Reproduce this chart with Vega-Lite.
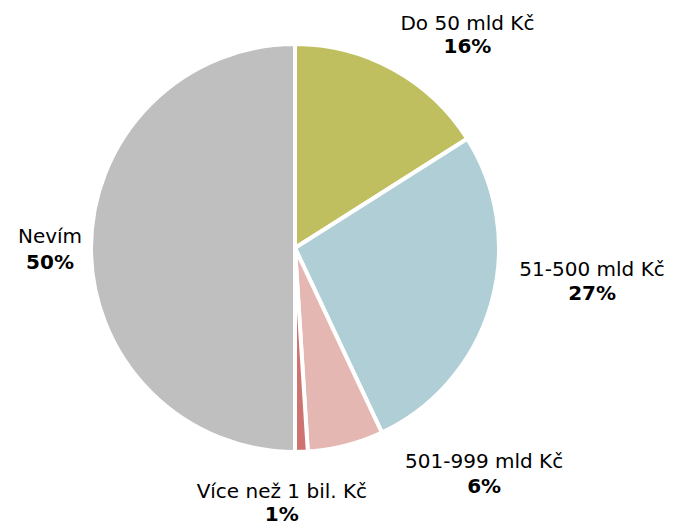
{
  "$schema": "https://vega.github.io/schema/vega-lite/v6.json",
  "width": 590,
  "height": 496,
  "autosize": {"type": "none"},
  "padding": {"left": 0, "top": 0, "right": 83, "bottom": 29},
  "background": "white",
  "config": {"view": {"stroke": null}, "text": {"font": "DejaVu Sans", "fontSize": 20, "color": "black", "align": "center", "baseline": "alphabetic"}},
  "data": {
    "values": [
      {"kategorie": "Do 50 mld Kč", "podil": 16, "poradi": 1, "procento": "16%"},
      {"kategorie": "51-500 mld Kč", "podil": 27, "poradi": 2, "procento": "27%"},
      {"kategorie": "501-999 mld Kč", "podil": 6, "poradi": 3, "procento": "6%"},
      {"kategorie": "Více než 1 bil. Kč", "podil": 1, "poradi": 4, "procento": "1%"},
      {"kategorie": "Nevím", "podil": 50, "poradi": 5, "procento": "50%"}
    ]
  },
  "encoding": {
    "theta": {"field": "podil", "type": "quantitative", "stack": true},
    "order": {"field": "poradi", "type": "quantitative"}
  },
  "layer": [
    {
      "mark": {"type": "arc", "outerRadius": 204, "stroke": "white", "strokeWidth": 4},
      "encoding": {
        "color": {
          "field": "kategorie",
          "type": "nominal",
          "scale": {
            "domain": ["Do 50 mld Kč", "51-500 mld Kč", "501-999 mld Kč", "Více než 1 bil. Kč", "Nevím"],
            "range": ["#BFBF60", "#B0CED6", "#E5B7B2", "#CD7370", "#BFBFBF"]
          },
          "legend": null
        }
      }
    },
    {"mark": {"type": "text", "radius": 250, "dx": 52, "dy": 1},
     "encoding": {"text": {"condition": {"test": "datum.poradi === 1", "field": "kategorie"}, "value": ""}}},
    {"mark": {"type": "text", "radius": 250, "dx": 52, "dy": 24, "fontWeight": "bold"},
     "encoding": {"text": {"condition": {"test": "datum.poradi === 1", "field": "procento"}, "value": ""}}},
    {"mark": {"type": "text", "radius": 250, "dx": 57, "dy": -42},
     "encoding": {"text": {"condition": {"test": "datum.poradi === 2", "field": "kategorie"}, "value": ""}}},
    {"mark": {"type": "text", "radius": 250, "dx": 57, "dy": -18, "fontWeight": "bold"},
     "encoding": {"text": {"condition": {"test": "datum.poradi === 2", "field": "procento"}, "value": ""}}},
    {"mark": {"type": "text", "radius": 250, "dx": 127, "dy": -22},
     "encoding": {"text": {"condition": {"test": "datum.poradi === 3", "field": "kategorie"}, "value": ""}}},
    {"mark": {"type": "text", "radius": 250, "dx": 127, "dy": 3, "fontWeight": "bold"},
     "encoding": {"text": {"condition": {"test": "datum.poradi === 3", "field": "procento"}, "value": ""}}},
    {"mark": {"type": "text", "radius": 250, "dx": -21, "dy": 0},
     "encoding": {"text": {"condition": {"test": "datum.poradi === 4", "field": "kategorie"}, "value": ""}}},
    {"mark": {"type": "text", "radius": 250, "dx": -21, "dy": 23, "fontWeight": "bold"},
     "encoding": {"text": {"condition": {"test": "datum.poradi === 4", "field": "procento"}, "value": ""}}},
    {"mark": {"type": "text", "radius": 250, "dx": 5, "dy": -5},
     "encoding": {"text": {"condition": {"test": "datum.poradi === 5", "field": "kategorie"}, "value": ""}}},
    {"mark": {"type": "text", "radius": 250, "dx": 5, "dy": 21, "fontWeight": "bold"},
     "encoding": {"text": {"condition": {"test": "datum.poradi === 5", "field": "procento"}, "value": ""}}}
  ]
}
